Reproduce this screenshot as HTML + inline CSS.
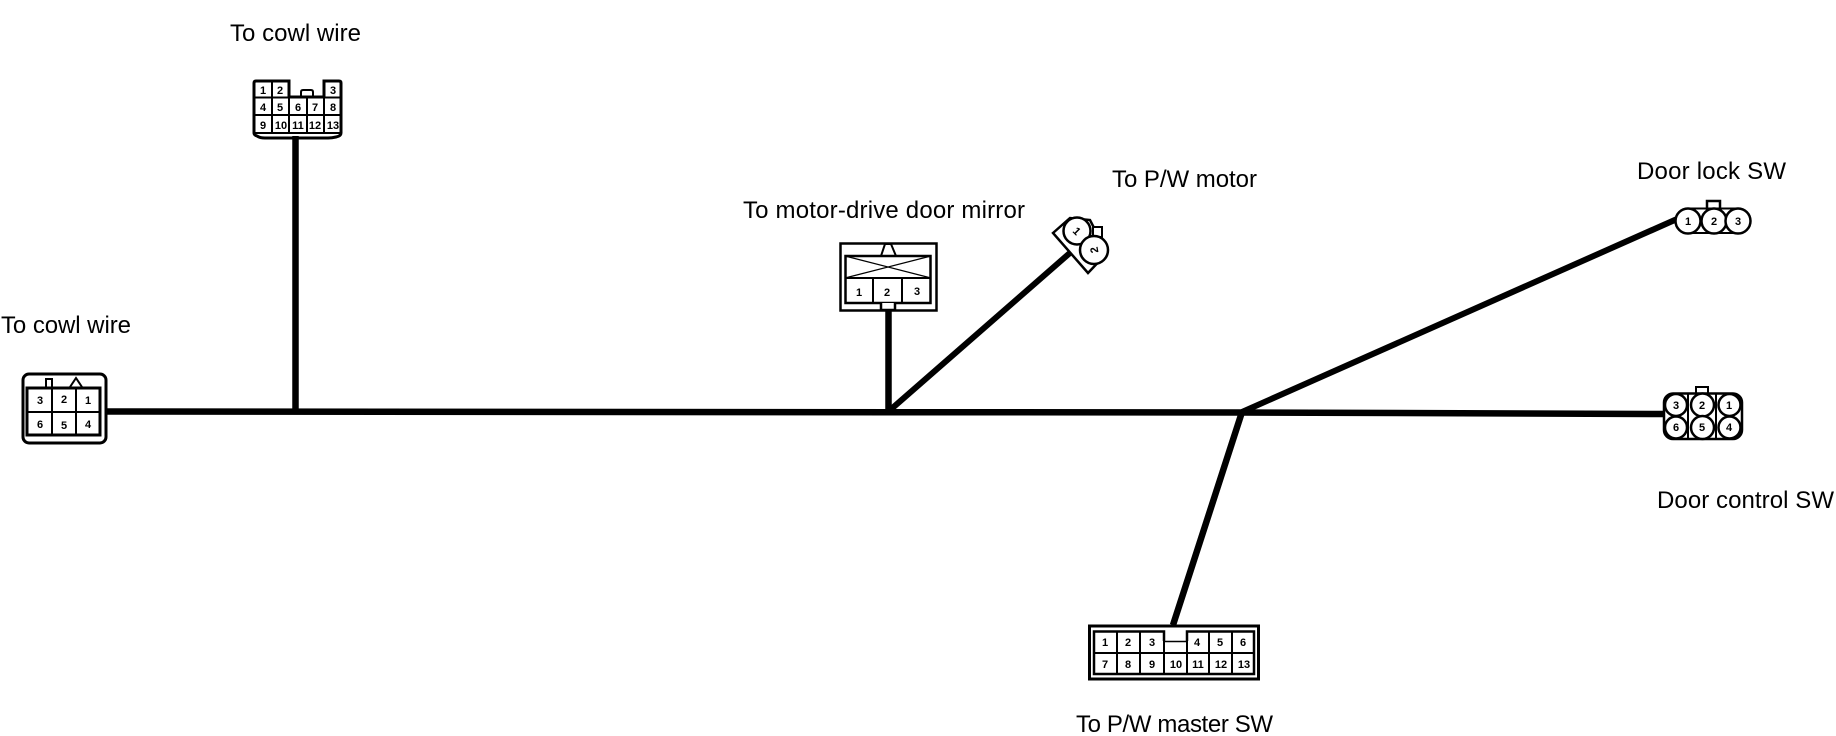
<!DOCTYPE html>
<html><head><meta charset="utf-8"><style>
html,body{margin:0;padding:0;background:#fff;width:1836px;height:736px;overflow:hidden}
svg{display:block}
.l{font:24px "Liberation Sans",sans-serif;fill:#000}
.n{font:bold 11px "Liberation Sans",sans-serif;fill:#000;text-anchor:middle}
.t{fill:none;stroke:#000;stroke-width:2}
.h{fill:none;stroke:#000;stroke-width:3}
.w{fill:none;stroke:#000;stroke-width:6.5}
circle{fill:#fff;stroke:#000;stroke-width:2.5}
</style></head><body>
<svg width="1836" height="736" viewBox="0 0 1836 736" xmlns="http://www.w3.org/2000/svg">
<!-- wires -->
<path class="w" d="M105 411.5L1240 412.5L1664 414"/>
<path class="w" d="M295.500 136V411"/>
<path class="w" d="M888.500 310V411"/>
<path class="w" style="stroke-width:6" d="M889 411L1071 252"/>
<path class="w" style="stroke-width:6" d="M1242 412L1677 219"/>
<path class="w" d="M1242 412L1173 625"/>
<!-- labels -->
<text class="l" x="230" y="41" textLength="131" lengthAdjust="spacing">To cowl wire</text>
<text class="l" x="1" y="333" textLength="130" lengthAdjust="spacing">To cowl wire</text>
<text class="l" x="743" y="218" textLength="282" lengthAdjust="spacing">To motor-drive door mirror</text>
<text class="l" x="1112" y="187" textLength="145" lengthAdjust="spacing">To P/W motor</text>
<text class="l" x="1637" y="179" textLength="149" lengthAdjust="spacing">Door lock SW</text>
<text class="l" x="1657" y="508" textLength="177" lengthAdjust="spacing">Door control SW</text>
<text class="l" x="1076" y="732" textLength="197" lengthAdjust="spacing">To P/W master SW</text>

<!-- top-left 13-pin -->
<path class="h" d="M254 83Q254 81 256 81H289V97H324V81H339Q341 81 341 83V133Q341 136 336 137Q332 138 328 138H265Q260 138 257 136Q254 135 254 133Z"/>
<path class="t" d="M254 97.500H341M254 115H341M254 133H341M272 81V133M289 81V133M307 97V133M324 81V133"/>
<path class="t" d="M301 97V92Q301 90 303 90H311Q313 90 313 92V97"/>
<text class="n" x="263" y="94">1</text><text class="n" x="280" y="94">2</text><text class="n" x="333" y="94">3</text>
<text class="n" x="263" y="111">4</text><text class="n" x="280" y="111">5</text><text class="n" x="298" y="111">6</text><text class="n" x="315" y="111">7</text><text class="n" x="333" y="111">8</text>
<text class="n" x="263" y="129">9</text><text class="n" x="281" y="129">10</text><text class="n" x="298" y="129">11</text><text class="n" x="315" y="129">12</text><text class="n" x="333" y="129">13</text>

<!-- left 6-pin -->
<rect x="23" y="374" width="83" height="69" rx="6" fill="#fff" stroke="#000" stroke-width="3"/>
<rect x="27" y="388" width="73" height="47" fill="#fff" stroke="#000" stroke-width="3"/>
<path class="t" d="M27 412H100M52 388V435M76 388V435"/>
<path class="t" d="M46 387V379H52V387M70 387L76 378L82 387"/>
<text class="n" x="40" y="404">3</text><text class="n" x="64" y="403">2</text><text class="n" x="88" y="404">1</text>
<text class="n" x="40" y="428">6</text><text class="n" x="64" y="429">5</text><text class="n" x="88" y="428">4</text>

<!-- mirror connector -->
<rect x="840.500" y="243.500" width="96" height="67" fill="#fff" stroke="#000" stroke-width="2.500"/>
<rect x="845.500" y="256" width="85" height="47" fill="#fff" stroke="#000" stroke-width="2.500"/>
<path class="t" d="M845 278H931M873 278V303M902 278V303"/>
<path d="M845 256L931 278M845 278L931 256" fill="none" stroke="#000" stroke-width="1.200"/>
<path class="t" d="M881 256L885 244H891L896 256"/>
<path d="M881 303V310H895V303" fill="#fff" stroke="#000" stroke-width="2.500"/>
<text class="n" x="859" y="296">1</text><text class="n" x="887" y="296">2</text><text class="n" x="917" y="295">3</text>

<!-- P/W motor connector -->
<path d="M1053 233L1070 218L1090 220L1107 253L1088 273Z" fill="#fff" stroke="#000" stroke-width="2.500"/>
<rect x="1093" y="227" width="9" height="10" fill="#fff" stroke="#000" stroke-width="2"/>
<circle cx="1077" cy="231" r="13.500"/>
<circle cx="1094" cy="250" r="14"/>
<text class="n" x="0" y="4" transform="translate(1077 231) rotate(45)">1</text>
<text class="n" x="0" y="4" transform="translate(1094 250) rotate(-100)">2</text>

<!-- door lock -->
<rect x="1707" y="201" width="13" height="8" fill="#fff" stroke="#000" stroke-width="2.500"/>
<path d="M1688 208.500H1738M1688 233H1738" stroke="#000" stroke-width="2" fill="none"/>
<circle cx="1688" cy="221" r="12.500"/><circle cx="1714" cy="221" r="12.500"/><circle cx="1738" cy="221" r="12.500"/>
<text class="n" x="1688" y="225">1</text><text class="n" x="1714" y="225">2</text><text class="n" x="1738" y="225">3</text>

<!-- door control -->
<rect x="1696" y="387" width="12" height="7" fill="#fff" stroke="#000" stroke-width="2"/>
<rect x="1664" y="393.500" width="78" height="45.500" rx="9" fill="#fff" stroke="#000" stroke-width="2.500"/>
<path class="t" d="M1688 393V439M1716 393V439"/>
<circle cx="1676" cy="405" r="11"/><circle cx="1702.500" cy="405" r="11.500"/><circle cx="1729.500" cy="405" r="11"/>
<circle cx="1676" cy="427.500" r="11"/><circle cx="1702.500" cy="427.500" r="11.500"/><circle cx="1729.500" cy="427.500" r="11"/>
<text class="n" x="1676" y="409">3</text><text class="n" x="1702" y="409">2</text><text class="n" x="1729" y="409">1</text>
<text class="n" x="1676" y="431">6</text><text class="n" x="1702" y="431">5</text><text class="n" x="1729" y="431">4</text>

<!-- master SW -->
<rect x="1089.500" y="626" width="169" height="53" fill="#fff" stroke="#000" stroke-width="3"/>
<path d="M1164 641V631.500H1094V674H1254V631.500H1187V641" fill="none" stroke="#000" stroke-width="2.500"/>
<path class="t" d="M1094 653H1254M1117 632V674M1140 632V674M1164 632V674M1187 632V674M1209 632V674M1232 632V674"/>
<path d="M1164 641.500H1187" stroke="#000" stroke-width="1.500"/>
<text class="n" x="1105" y="646">1</text><text class="n" x="1128" y="646">2</text><text class="n" x="1152" y="646">3</text><text class="n" x="1197" y="646">4</text><text class="n" x="1220" y="646">5</text><text class="n" x="1243" y="646">6</text>
<text class="n" x="1105" y="668">7</text><text class="n" x="1128" y="668">8</text><text class="n" x="1152" y="668">9</text><text class="n" x="1176" y="668">10</text><text class="n" x="1198" y="668">11</text><text class="n" x="1221" y="668">12</text><text class="n" x="1244" y="668">13</text>
</svg>
</body></html>
